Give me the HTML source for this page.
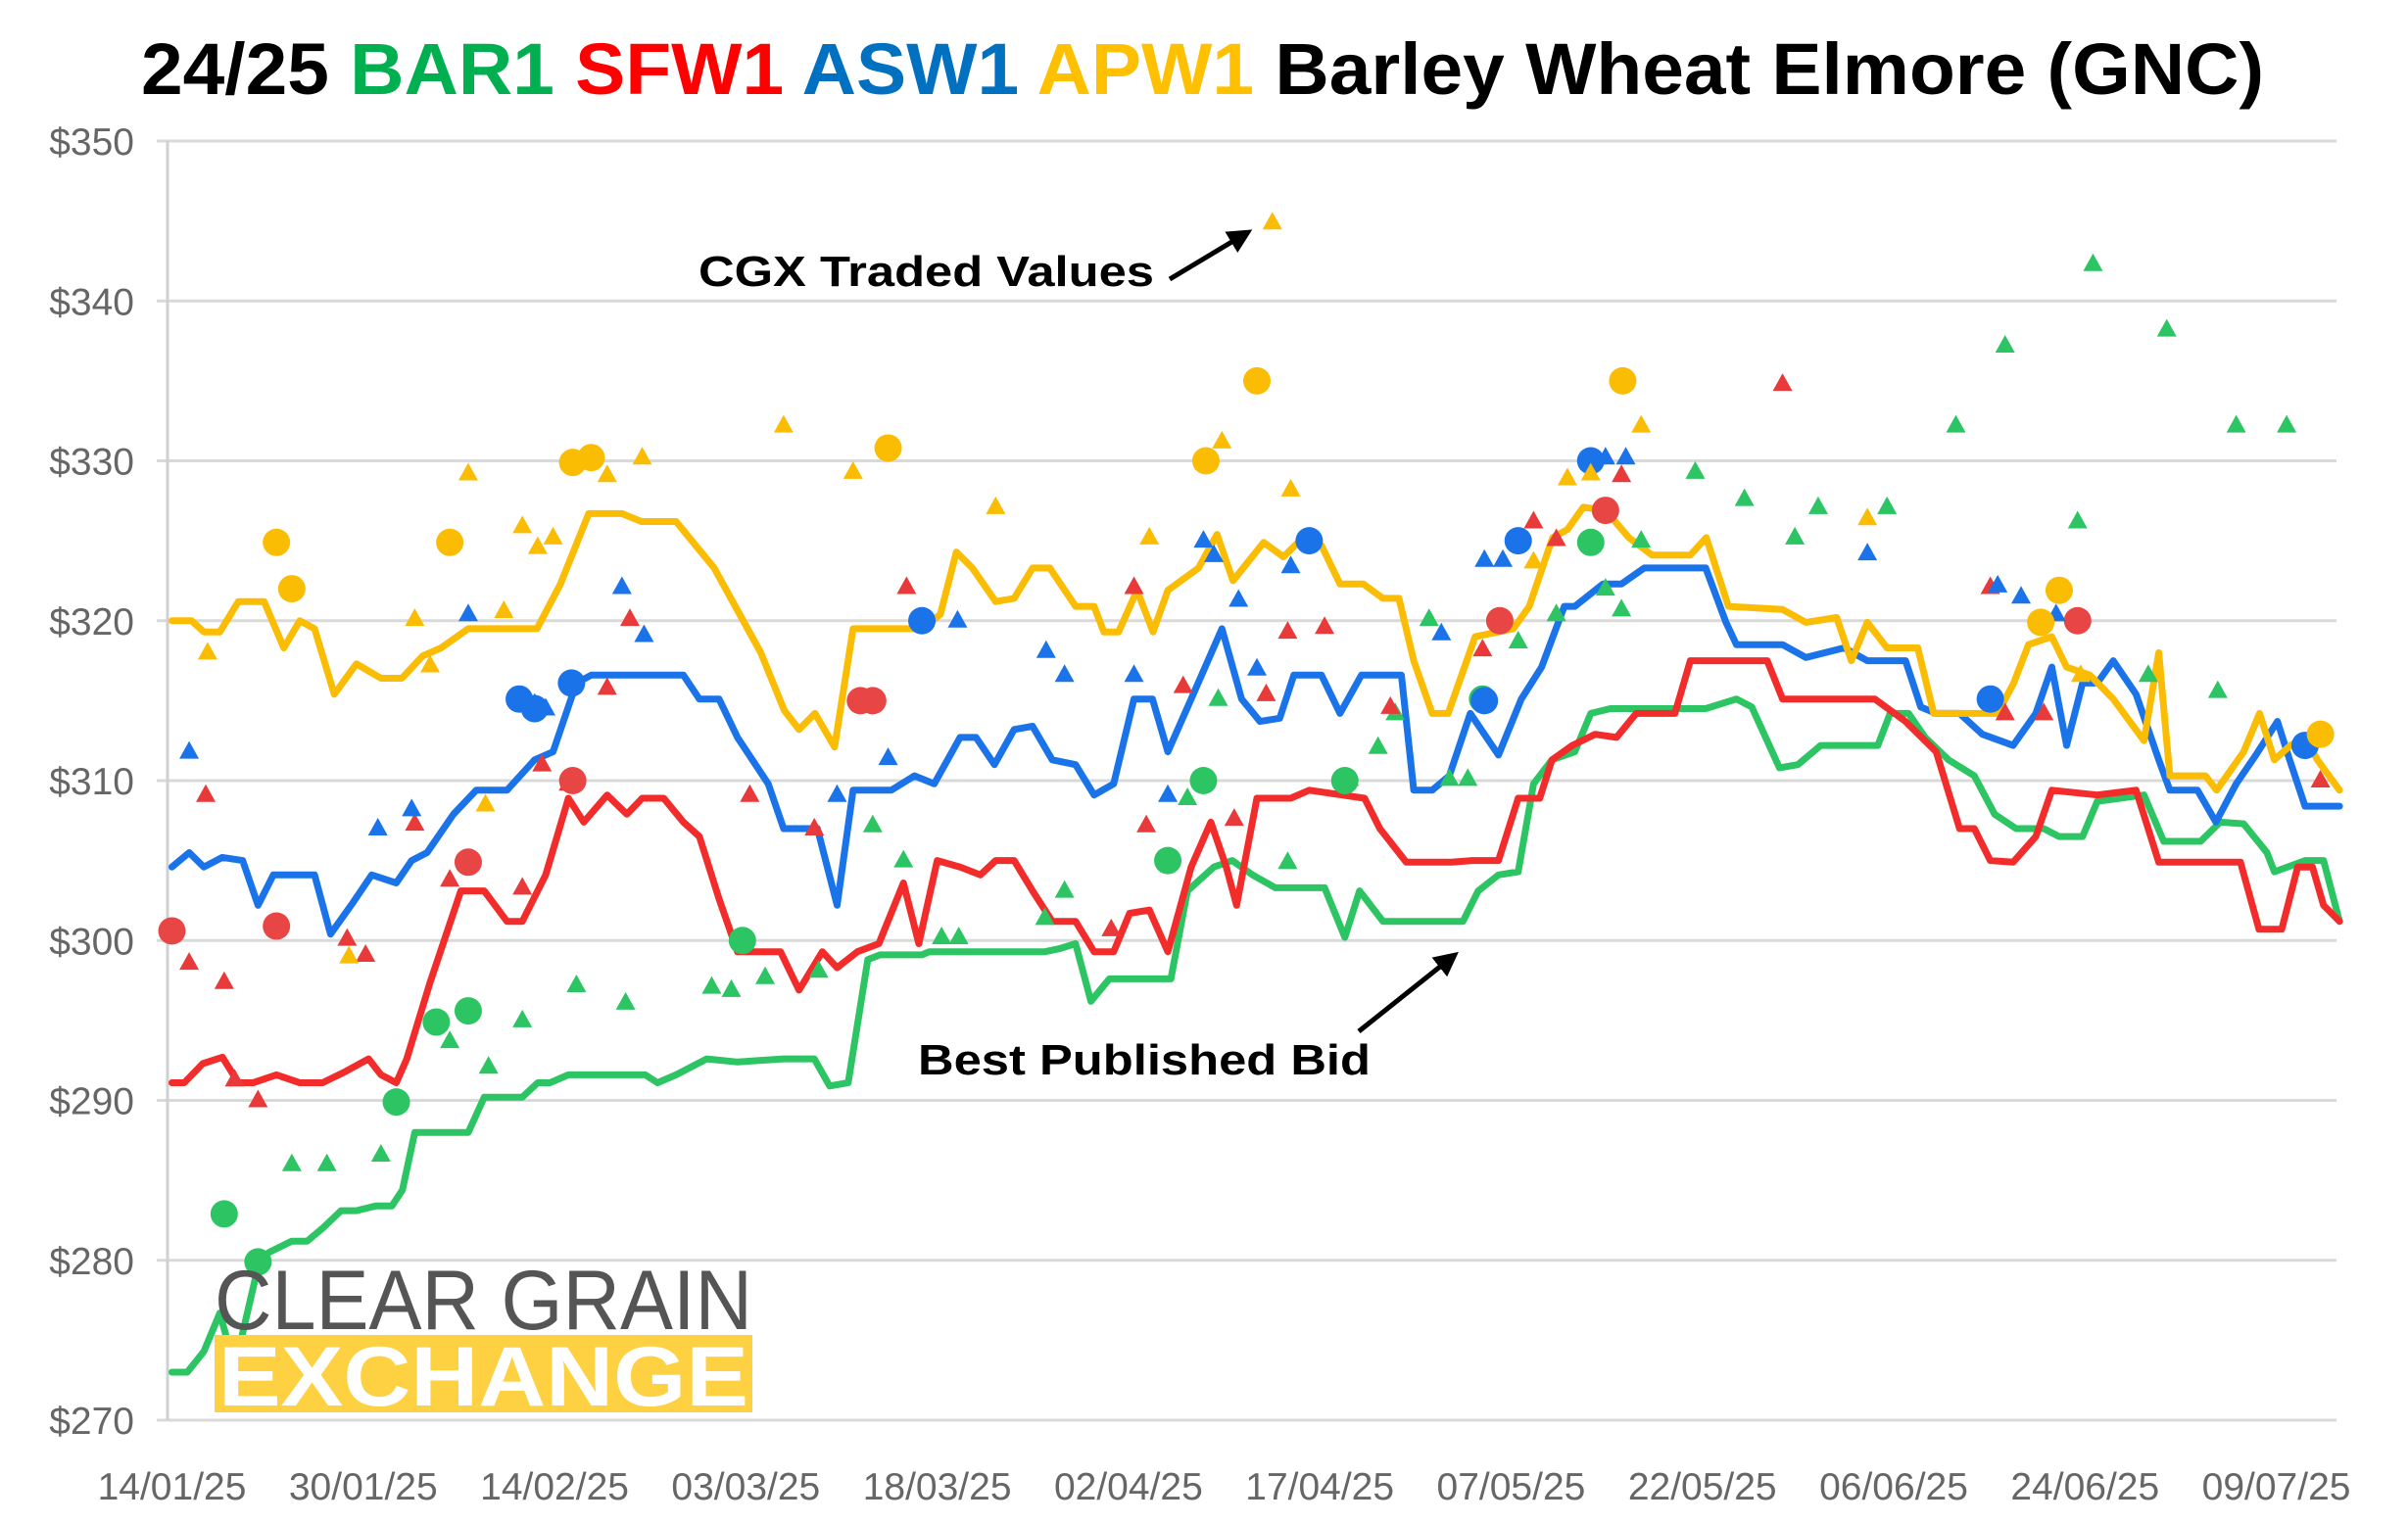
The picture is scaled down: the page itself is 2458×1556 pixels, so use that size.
<!DOCTYPE html>
<html><head><meta charset="utf-8"><style>
html,body{margin:0;padding:0;background:#fff;}
svg{display:block;font-family:"Liberation Sans",Arial,sans-serif;}
</style></head>
<body>
<svg id="chart" width="2458" height="1556" viewBox="0 0 2458 1556" xmlns="http://www.w3.org/2000/svg">
<text x="144" y="96" font-size="74" font-weight="bold" textLength="2167" lengthAdjust="spacingAndGlyphs"><tspan fill="#000">24/25 </tspan><tspan fill="#00b050">BAR1 </tspan><tspan fill="#ff0000">SFW1 </tspan><tspan fill="#0070c0">ASW1 </tspan><tspan fill="#ffc000">APW1 </tspan><tspan fill="#000">Barley Wheat Elmore (GNC)</tspan></text>
<g id="grid"></g><g id="lines"></g><g id="marks"></g><g id="annot"></g><g id="logo"></g>
</svg>
<script>
const NS="http://www.w3.org/2000/svg";
const yTicks=[270,280,290,300,310,320,330,340,350];
const xLabels=["14/01/25","30/01/25","14/02/25","03/03/25","18/03/25","02/04/25","17/04/25","07/05/25","22/05/25","06/06/25","24/06/25","09/07/25"];
const xLabelStep=15.56;
const yellowX=[0,1.6,2.6,3.9,5.4,7.5,9.1,10.4,11.6,13.2,15,17,18.7,20.4,21.9,24.1,29.7,31.6,33.9,36.6,38.2,41,44.1,47.9,49.8,51,52.3,53.9,55.4,61,62.5,63.8,65.1,67,68.5,70,71.4,73.5,75,75.8,77,78.5,79.8,81,83.5,85,86.3,88.8,90.4,92,93.5,95,96.9,98.5,99.8,101,102.5,103.8,106,109.1,110.4,112.3,113.5,114.8,116.6,118.5,120.4,123.5,124.8,126.6,131,132.9,135.4,136.6,137.9,139.5,142,143.3,148.5,149.8,151,152.9,154.1,156,157.9,160.4,161.6,162.5,165.4,166.3,168.5,169.8,171,172.3,173.5,174.5,176.3];
const yellowV=[320,320,319.3,319.3,321.2,321.2,318.3,320,319.5,315.4,317.3,316.4,316.4,317.8,318.3,319.5,319.5,322.3,326.7,326.7,326.2,326.2,323.3,318,314.4,313.2,314.2,312.1,319.5,319.5,320.4,324.3,323.3,321.2,321.4,323.3,323.3,320.9,320.9,319.3,319.3,321.9,319.3,321.9,323.3,325.4,322.5,324.9,324,325.2,324.7,322.3,322.3,321.4,321.4,317.5,314.2,314.2,319,319.5,320.9,325.2,325.7,327.1,326.9,325.2,324.1,324.1,325.2,320.9,320.7,319.9,320.2,317.5,319.9,318.3,318.3,314.2,314.2,316.1,318.5,319,317.1,316.6,315.1,312.5,318,310.3,310.3,309.4,311.8,314.2,311.3,312.2,312.7,311.3,309.4];
const blueX=[0,1.4,2.6,4.1,5.75,7,8.25,11.6,12.9,14.75,16.25,18.25,19.5,20.75,22.9,24.75,27.25,29.5,31,32.9,34.1,41.6,42.9,44.5,46,48.5,49.75,52.5,54.1,55.4,58.5,60.4,62,64.1,65.4,66.9,68.5,70,71.6,73.5,75,76.6,78.25,79.75,81,82.9,85.4,87,88.5,90.1,91.25,93.5,95,96.75,100,101,102.5,103.9,105.6,107.9,109.75,111.4,113.25,114.1,116.4,117.9,119.75,124.75,126.4,127.25,131,132.9,136,137.9,141,142.25,143.5,145.4,147.25,149.75,151.6,152.9,154.1,155.4,156.6,157.9,159.75,161.6,162.5,164.75,166.25,167.9,169.5,171.25,172.25,173.5,176.3];
const blueV=[304.6,305.5,304.6,305.2,305,302.2,304.1,304.1,300.4,302.4,304.1,303.6,305,305.5,307.9,309.4,309.4,311.3,311.8,316.1,316.6,316.6,315.1,315.1,312.7,309.8,307,307,302.2,309.4,309.4,310.3,309.8,312.7,312.7,311,313.2,313.4,311.3,311,309.1,309.8,315.1,315.1,311.8,315.1,319.5,315.1,313.7,313.9,316.6,316.6,314.2,316.6,316.6,309.4,309.4,310.3,314.2,311.6,315.1,317.1,320.9,320.9,322.3,322.3,323.3,323.3,319.9,318.5,318.5,317.7,318.3,317.5,317.5,314.6,314.2,314.2,312.9,312.2,314.2,317.1,312.2,316.1,316.1,317.5,315.4,311.3,309.4,309.4,307.4,309.8,311.6,313.7,311.3,308.4,308.4];
const redX=[0,1,2.5,4.1,5.4,6.6,8.5,10.4,12.25,14.1,16,17,18.25,19.1,21,23.5,25.4,27.25,28.5,30.4,32.25,33.5,35.4,37,38.25,40,41.6,42.9,44.5,46,49.5,51,52.9,54.1,55.75,57.5,59.5,60.75,62.25,64.1,65.75,67,68.5,70,71.6,73.5,75,76.6,77.9,79.5,81,82.9,84.5,85.75,86.6,88.25,89.75,91,92.5,97,98.25,100.4,104.1,105.75,107.9,109.5,111.25,112.25,113.9,115.75,117.5,119.1,122.25,123.5,129.75,131,138.5,141,143.5,145.4,146.6,147.9,149.75,151.6,152.9,156.6,159.75,161.6,168.25,169.75,171.6,172.9,174.1,175,176.3];
const redV=[291.1,291.1,292.3,292.7,291.1,291.1,291.6,291.1,291.1,291.8,292.6,291.6,291.1,292.6,297.4,303.1,303.1,301.2,301.2,304.1,308.9,307.4,309.1,307.9,308.9,308.9,307.4,306.5,302.6,299.3,299.3,296.9,299.3,298.3,299.3,299.8,303.6,299.8,305,304.6,304.1,305,305,303.1,301.2,301.2,299.3,299.3,301.7,301.9,299.3,304.6,307.4,304.6,302.2,308.9,308.9,308.9,309.4,308.9,307,304.9,304.9,305,305,308.9,308.9,311.3,312.2,312.9,312.7,314.2,314.2,317.5,317.5,315.1,315.1,313.7,311.8,307,307,305,304.9,306.5,309.4,309.1,309.4,304.9,304.9,300.7,300.7,304.6,304.6,302.2,301.2];
const greenX=[0,1.25,2.6,3.9,5.1,7,7.9,9.75,11,12.25,13.75,15,16.6,17.9,18.75,19.75,24.1,25.4,28.5,29.75,30.75,32.25,38.5,39.5,41,43.5,46,49.75,52.25,53.5,55,56.6,57.6,61,61.6,71,72.25,73.5,74.75,76.25,81.25,82.6,84.75,86.25,87.9,89.75,93.75,95.4,96.6,98.5,105,106.25,107.9,109.5,110.75,112.25,114.1,115.4,117,124.75,127.25,128.5,130.75,132.25,134.1,138.75,139.75,141.25,142.6,144.5,146.6,148.25,150,152.25,153.5,155.4,156.6,160.4,162,165,166.6,168.5,170.4,171,173.5,175,176.3];
const greenV=[273,273,274.3,276.7,273.3,279.6,280.5,281.2,281.2,282,283.1,283.1,283.4,283.4,284.4,288,288,290.2,290.2,291.1,291.1,291.6,291.6,291.1,291.6,292.6,292.4,292.6,292.6,290.9,291.1,298.8,299.1,299.1,299.3,299.3,299.5,299.8,296.2,297.6,297.6,303.1,304.6,305,304.1,303.3,303.3,300.2,303.1,301.2,301.2,303.1,304.1,304.3,309.8,311.3,311.8,314.2,314.5,314.5,315.1,314.6,310.8,311,312.2,312.2,314.2,314.2,312.7,311.3,310.3,307.9,307,307,306.5,306.5,308.7,309.1,306.2,306.2,307.4,307.3,305.5,304.3,305,305,301.2];
// traded values (markers)
const greenTriX=[9.75,12.6,17,22.6,25.75,28.5,32.9,36.9,43.9,45.5,48.25,52.6,57,59.5,62.6,64,71,72.6,82.6,85.1,90.75,95.75,98.1,99.5,102.25,103.9,105.4,109.5,112.6,116.6,117.9,119.5,123.9,127.9,132,133.9,139.5,145.1,149.1,155,156.25,160.75,162.25,166.4,167.9,172];
const greenTriV=[286,286,286.6,293.7,292.1,295,297.2,296.1,297.1,296.9,297.7,298.1,307.2,305,300.2,300.2,301.4,303.1,308.9,315.1,304.9,310.1,312.1,314.2,320.1,310.1,310.1,318.7,320.4,322,320.7,325,329.3,327.6,325.2,327.1,327.1,332.2,337.2,326.2,342.3,316.6,338.2,315.6,332.2,332.2];
const greenDotX=[4.25,7,18.25,21.5,24.1,46.4,81,83.9,95.4,106.6,115.4];
const greenDotV=[282.9,279.9,289.9,294.9,295.6,300,305,310,310,315.1,324.9];
const redTriX=[2.75,4.25,5.1,7,1.4,14.25,15.75,19.75,22.6,28.5,30.1,32.25,35.4,37.25,47,52.25,59.75,76.4,78.25,79.25,82.25,86.4,89,90.75,93.75,99.1,106.6,110.75,112.6,117.9,131,147.9,149.1,152.25,174.75];
const redTriV=[309.1,297.4,291.3,290,298.6,300.1,299.1,307.3,303.8,303.3,311,309.8,315.8,320.1,309.1,307,322.1,300.7,322.1,307.2,315.9,307.6,315.4,319.3,319.6,314.6,318.2,326.2,325.1,329.1,334.8,322.1,314.2,314.2,310];
const redDotX=[0,8.5,24.1,32.6,56,57,108,116.6,155];
const redDotV=[300.6,300.9,304.9,310,315,315,320,326.9,320];
const blueTriX=[1.4,16.75,19.5,24.1,29.5,30.4,36.6,38.4,54.1,58.25,63.9,71.1,72.6,78.25,81,83.9,84.75,86.75,88.25,91,103.25,106.75,108.25,116.6,118.25,137.9,148.5,150.4,153.25];
const blueTriV=[311.8,307,308.2,320.4,314.8,314.5,322.1,319.1,309.1,311.4,320,318.1,316.6,316.6,309.1,325,324.1,321.3,317,323.4,319.2,323.8,323.8,330.2,330.2,324.2,322.2,321.5,320.4];
const blueDotX=[28.25,29.5,32.5,61,92.5,106.75,109.5,115.4,147.9,173.5];
const blueDotV=[315.1,314.5,316.1,320,325,315,325,330,315.1,312.2];
const yellowTriX=[2.9,14.4,19.75,21,24.1,25.5,27,28.5,29.75,31,35.4,38.25,49.75,55.4,67,79.5,85.4,89.5,91,110.75,113.5,115.4,119.5,137.9,155.25];
const yellowTriV=[318,299,320.1,317.2,329.2,308.5,320.6,325.9,324.6,325.2,329.1,330.2,332.2,329.3,327.1,325.2,331.2,344.9,328.2,323.7,328.9,329.2,332.2,326.4,316.6];
const yellowDotX=[8.5,9.75,22.6,32.6,34.1,58.25,84.1,88.25,118,152,153.5,174.75];
const yellowDotV=[324.9,322,324.9,329.9,330.2,330.8,330,335,335,319.9,321.9,312.9];

const X0=175.5,PXU=12.55,Y350=144,Y270=1450,PLOT_R=2385;
const xs=u=>X0+u*PXU;
const ys=v=>Y270-(v-270)*(Y270-Y350)/80;
function mk(tag,attrs,parent){const e=document.createElementNS(NS,tag);for(const k in attrs)e.setAttribute(k,attrs[k]);parent.appendChild(e);return e;}
const grid=document.getElementById('grid');
yTicks.forEach(t=>{
  const l=mk('line',{x1:160,x2:PLOT_R,y1:ys(t),y2:ys(t),stroke:'#d9d9d9','stroke-width':3},grid);
  
  
  const tx=mk('text',{x:137,y:ys(t)+14,'text-anchor':'end','font-size':39,fill:'#666'},grid);
  tx.textContent='$'+t;
  
  
});
const ax=mk('line',{x1:171,x2:171,y1:Y350,y2:Y270,stroke:'#d0d0d0','stroke-width':3},grid);


xLabels.forEach((s,i)=>{
  const tx=mk('text',{x:xs(i*xLabelStep),y:1531,'text-anchor':'middle','font-size':39,fill:'#666'},grid);
  tx.textContent=s;
  
  
});
const lines=document.getElementById('lines');
function drawLine(X,V,color,name){
  const p=mk('polyline',{points:X.map((u,i)=>xs(u).toFixed(1)+','+ys(V[i]).toFixed(1)).join(' '),fill:'none',stroke:color,'stroke-width':7,'stroke-linejoin':'round','stroke-linecap':'round'},lines);
  
  
}
drawLine(greenX,greenV,'#2dc563','bar1-bid-line');
drawLine(redX,redV,'#f22b2b','sfw1-bid-line');
drawLine(blueX,blueV,'#1a73e8','asw1-bid-line');
drawLine(yellowX,yellowV,'#fbbc04','apw1-bid-line');
const marks=document.getElementById('marks');
function tris(X,V,color,name){X.forEach((u,i)=>{const x=xs(u),y=ys(V[i]);
  const p=mk('polygon',{points:`${x},${y-11} ${x-10},${y+7} ${x+10},${y+7}`,fill:color},marks);
  
  });}
function dots(X,V,color,name){X.forEach((u,i)=>{
  const c=mk('circle',{cx:xs(u),cy:ys(V[i]),r:14,fill:color},marks);
  
  });}
tris(greenTriX,greenTriV,'#2dc563','bar1-trade-triangle');dots(greenDotX,greenDotV,'#2dc563','bar1-trade-dot');
tris(redTriX,redTriV,'#e83a3a','sfw1-trade-triangle');dots(redDotX,redDotV,'#e84545','sfw1-trade-dot');
tris(blueTriX,blueTriV,'#1a73e8','asw1-trade-triangle');dots(blueDotX,blueDotV,'#1a73e8','asw1-trade-dot');
tris(yellowTriX,yellowTriV,'#fbbc04','apw1-trade-triangle');dots(yellowDotX,yellowDotV,'#fbbc04','apw1-trade-dot');
</script>
<script>
(function(){
const an=document.getElementById('annot');
an.innerHTML=`
<defs><marker id="ah" viewBox="0 0 10 10" refX="8" refY="5" markerWidth="5" markerHeight="5" orient="auto"><path d="M0,0 L10,5 L0,10 z" fill="#000"/></marker></defs>
<text x="713" y="292" font-size="44" font-weight="bold" fill="#000" textLength="465" lengthAdjust="spacingAndGlyphs">CGX Traded Values</text>
<line x1="1194" y1="285" x2="1274" y2="237" stroke="#000" stroke-width="5" marker-end="url(#ah)"/>
<text x="937" y="1097" font-size="44" font-weight="bold" fill="#000" textLength="462" lengthAdjust="spacingAndGlyphs">Best Published Bid</text>
<line x1="1387" y1="1053" x2="1485" y2="975" stroke="#000" stroke-width="5" marker-end="url(#ah)"/>`;
const lg=document.getElementById('logo');
lg.innerHTML=`
<text x="219" y="1357" font-size="86" fill="#555" textLength="549" lengthAdjust="spacingAndGlyphs">CLEAR GRAIN</text>
<rect x="219" y="1363" width="549" height="79" fill="#fdd142"/>
<text x="223" y="1435" font-size="86" font-weight="bold" fill="#fff" textLength="541" lengthAdjust="spacingAndGlyphs">EXCHANGE</text>`;
})();
</script>
</body></html>
